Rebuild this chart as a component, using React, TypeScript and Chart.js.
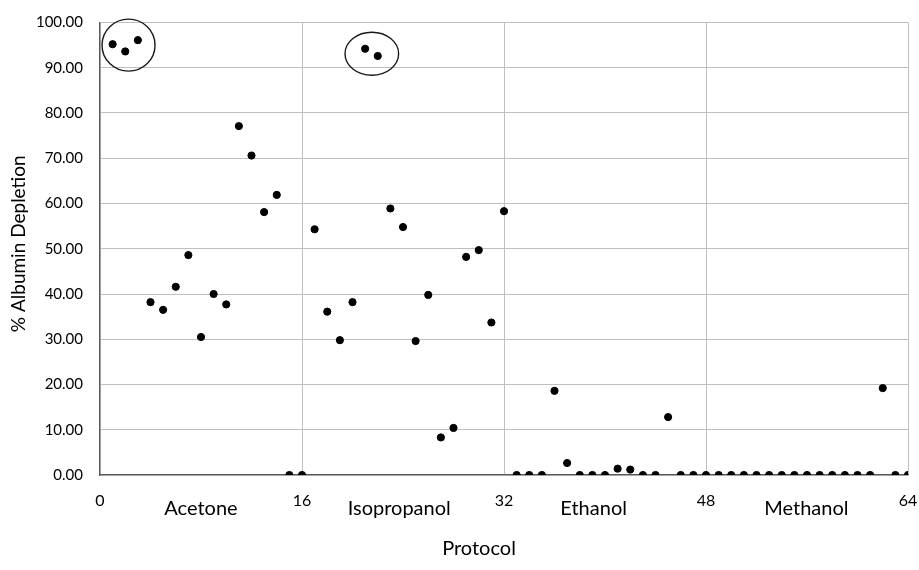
import { useEffect, useRef } from "react";
import { Chart, registerables } from "chart.js";

Chart.register(...registerables);

// ---- data ----
const CATEGORIES = ["Acetone", "Isopropanol", "Ethanol", "Methanol"];
const PROTOCOLS_PER_GROUP = 16;
const ACETONE = [95.2, 93.6, 96.1, 38.2, 36.5, 41.6, 48.6, 30.5, 40.0, 37.7, 77.1, 70.6, 58.1, 61.9, 0, 0];
const ISOPROPANOL = [54.3, 36.1, 29.8, 38.2, 94.2, 92.6, 58.9, 54.8, 29.6, 39.8, 8.3, 10.4, 48.2, 49.7, 33.7, 58.3];
const ETHANOL = [0, 0, 0, 18.6, 2.65, 0, 0, 0, 1.4, 1.2, 0, 0, 12.8, 0, 0, 0];
const METHANOL = [0, 0, 0, 0, 0, 0, 0, 0, 0, 0, 0, 0, 0, 19.2, 0, 0];
const X_TICKS = [0, 16, 32, 48, 64];
const Y_TICKS = [0, 10, 20, 30, 40, 50, 60, 70, 80, 90, 100];
const X_TITLE = "Protocol";
const Y_TITLE = "% Albumin Depletion";
// label anchors (protocol units) for the solvent names under the axis
const CATEGORY_LABEL_X = [8.0, 23.7, 39.1, 55.95];
// highlighted clusters: centre in data units, radii in px
const HIGHLIGHTS = [
  { x: 2.26, y: 95.0, rx: 26.5, ry: 26 },
  { x: 21.53, y: 93.1, rx: 26.8, ry: 21.5 },
];

const SERIES = [ACETONE, ISOPROPANOL, ETHANOL, METHANOL];
const FONT = "Lato, 'Liberation Sans', sans-serif";

const overlay = {
  id: "overlay",
  afterDatasetsDraw(chart: any) {
    const { ctx, scales, chartArea } = chart;
    const xs = scales.x;
    const ys = scales.y;
    ctx.save();
    // ellipses
    ctx.strokeStyle = "#1a1a1a";
    ctx.lineWidth = 1.4;
    HIGHLIGHTS.forEach((h) => {
      ctx.beginPath();
      ctx.ellipse(xs.getPixelForValue(h.x), ys.getPixelForValue(h.y), h.rx, h.ry, 0, 0, Math.PI * 2);
      ctx.stroke();
    });
    // category labels
    ctx.fillStyle = "#000";
    ctx.font = `20px ${FONT}`;
    ctx.textAlign = "center";
    ctx.textBaseline = "alphabetic";
    CATEGORIES.forEach((c, i) => {
      ctx.fillText(c, xs.getPixelForValue(CATEGORY_LABEL_X[i]), chartArea.bottom + 40);
    });
    // x title
    ctx.textBaseline = "middle";
    ctx.fillText(X_TITLE, (chartArea.left + chartArea.right) / 2 - 25, chartArea.bottom + 74);
    // y title
    ctx.translate(19, (chartArea.top + chartArea.bottom) / 2 - 5);
    ctx.rotate(-Math.PI / 2);
    ctx.font = `19px ${FONT}`;
    ctx.fillText(Y_TITLE, 0, 0);
    ctx.restore();
  },
};

export default function App() {
  const ref = useRef<HTMLCanvasElement | null>(null);
  useEffect(() => {
    if (!ref.current) return;
    const points: { x: number; y: number }[] = [];
    SERIES.forEach((vals, g) => {
      vals.forEach((v, i) => points.push({ x: g * PROTOCOLS_PER_GROUP + i + 1, y: v }));
    });
    const chart = new Chart(ref.current, {
      type: "scatter",
      data: {
        datasets: [
          {
            label: Y_TITLE,
            data: points,
            backgroundColor: "#000",
            borderColor: "#000",
            pointRadius: 3.6,
            pointHoverRadius: 3.6,
          },
        ],
      },
      options: {
        animation: false,
        responsive: true,
        maintainAspectRatio: false,
        layout: { padding: { left: 0, top: 22.5, right: 11, bottom: 0 } },
        plugins: { legend: { display: false }, tooltip: { enabled: false } },
        scales: {
          x: {
            type: "linear",
            min: 0,
            max: 64,
            afterBuildTicks: (s: any) => {
              s.ticks = X_TICKS.map((v) => ({ value: v }));
            },
            afterFit: (s: any) => {
              s.height = 95;
              s.paddingLeft = 0;
              s.paddingRight = 0;
            },
            grid: { color: "#bfbfbf", lineWidth: 1, drawTicks: false },
            border: { color: "#595959", width: 1.3 },
            ticks: {
              color: "#000",
              font: { family: FONT, size: 16 },
              padding: 16,
              maxRotation: 0,
              autoSkip: false,
            },
          },
          y: {
            type: "linear",
            min: 0,
            max: 100,
            afterBuildTicks: (s: any) => {
              s.ticks = Y_TICKS.map((v) => ({ value: v }));
            },
            afterFit: (s: any) => {
              s.width = 100;
              s.paddingTop = 0;
              s.paddingBottom = 0;
            },
            grid: { color: "#bfbfbf", lineWidth: 1, drawTicks: false },
            border: { color: "#595959", width: 1.3 },
            ticks: {
              color: "#000",
              font: { family: FONT, size: 15 },
              padding: 17,
              callback: (v: any) => Number(v).toFixed(2),
            },
          },
        },
      },
      plugins: [overlay],
    });
    return () => chart.destroy();
  }, []);
  return (
    <div style={{ position: "absolute", left: 0, top: 0, width: 919, height: 570, background: "#fff" }}>
      <canvas ref={ref} />
    </div>
  );
}
